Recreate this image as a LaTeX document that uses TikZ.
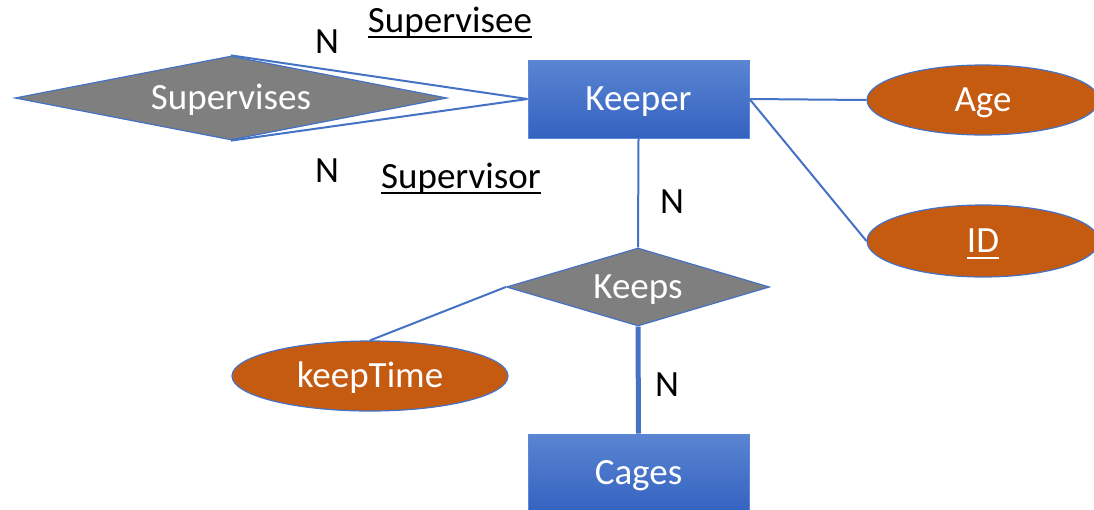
\documentclass[tikz,border=0pt]{standalone}
\usepackage{fontspec}
\setmainfont{Carlito}
\usetikzlibrary{shapes.geometric}

\definecolor{linkblue}{HTML}{4472C4}
\definecolor{boxtop}{HTML}{5A85D2}
\definecolor{boxbottom}{HTML}{3462C0}
\definecolor{boxedge}{HTML}{5B89D8}
\definecolor{relgray}{HTML}{7F7F7F}
\definecolor{attrfill}{HTML}{C55A11}

% underline drawn as a thick bar below the baseline
\newcommand{\ulbar}[1]{\setbox0\hbox{#1}\rlap{\raisebox{-6pt}{\rule{\wd0}{2.2pt}}}\box0}

\tikzset{
  every node/.style={font=\fontsize{37}{42}\selectfont},
  shapetext/.style={inner sep=0pt, text height=23.4pt, text depth=0pt, text=white},
  entity/.style={shapetext, rectangle, draw=boxedge, line width=1pt,
    top color=boxtop, bottom color=boxbottom, minimum width=221pt, minimum height=78pt},
  relation/.style={shapetext, diamond, draw=linkblue, line width=1.2pt, fill=relgray},
  attribute/.style={shapetext, ellipse, draw=linkblue, line width=1.2pt, fill=attrfill},
  link/.style={draw=linkblue, line width=2pt},
  biglink/.style={draw=linkblue, line width=5pt},
  role/.style={inner sep=0pt, anchor=base, text=black}
}

\begin{document}
\begin{tikzpicture}[x=1pt,y=-1pt]
\useasboundingbox (0,0) rectangle (1094,509);

% entities
\node[entity] (keeper) at (638.5,99) {Keeper};
\node[entity] (cages) at (638.5,473) {Cages};

% relationships
\node[relation, aspect=5.14, minimum width=432pt, minimum height=84pt] (supervises) at (231,98) {Supervises};
\node[relation, aspect=3.37, minimum width=263pt, minimum height=78pt] (keeps) at (638,287) {Keeps};

% attributes
\node[attribute, minimum width=232pt, minimum height=70pt] (age) at (983,100) {Age};
\node[attribute, minimum width=232pt, minimum height=72pt] (id) at (983,241) {\ulbar{ID}};
\node[attribute, minimum width=276pt, minimum height=70pt] (keeptime) at (370,376) {keepTime};

% connectors
\draw[link] (supervises.north) -- (keeper.west);
\draw[link] (supervises.south) -- (keeper.west);
\draw[link] (keeper.east) -- (age.west);
\draw[link] (keeper.east) -- (id.west);
\draw[link] (keeper.south) -- (keeps.north);
\draw[link] (keeptime.north) -- (keeps.west);
\draw[biglink] (keeps.south) -- (cages.north);

% role names and cardinalities
\node[role] (n1) at (327,53) {N};
\node[role] (supervisee) at (450,32) {\ulbar{Supervisee}};
\node[role] (n2) at (327,182) {N};
\node[role] (supervisor) at (461,188) {\ulbar{Supervisor}};
\node[role] (n3) at (672,213) {N};
\node[role] (n4) at (667,396) {N};
\end{tikzpicture}
\end{document}
